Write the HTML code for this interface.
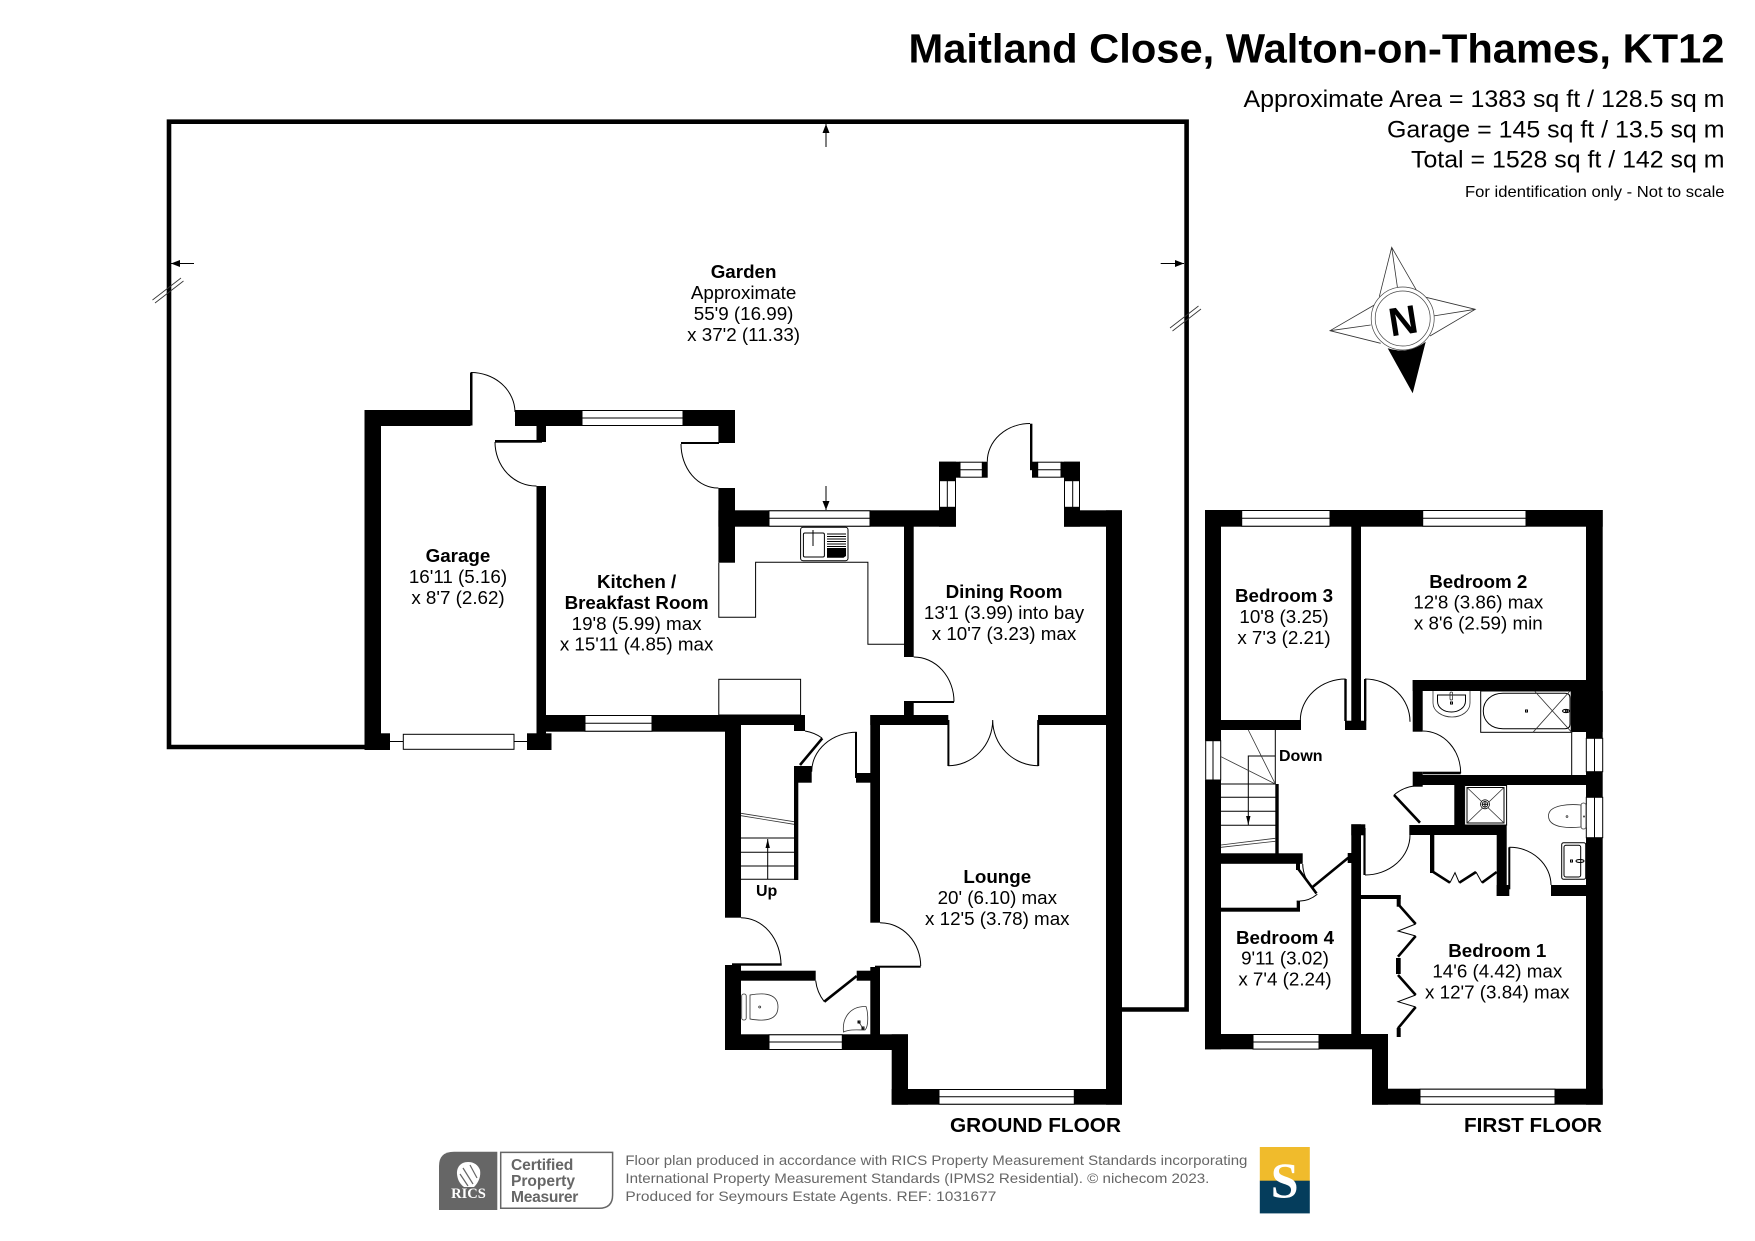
<!DOCTYPE html>
<html><head><meta charset="utf-8"><title>Maitland Close Floor Plan</title>
<style>
html,body{margin:0;padding:0;background:#fff}
svg{display:block}
text{font-family:"Liberation Sans",sans-serif;fill:#000}
.b{font-weight:bold}
.r text,text.r{font-size:18.8px;text-anchor:middle}
.w{fill:#000;stroke:none}
.t{fill:none;stroke:#000;stroke-width:1}
.g{fill:none;stroke:#333;stroke-width:.8}
.l{fill:none;stroke:#000;stroke-width:2.6}
.win{fill:#fff;stroke:#000;stroke-width:1}
</style></head><body>
<svg xmlns="http://www.w3.org/2000/svg" width="1755" height="1241" viewBox="0 0 1755 1241">
<rect width="1755" height="1241" fill="#fff"/>

<!-- header -->
<text class="b" x="908.5" y="62.5" font-size="41" textLength="816" lengthAdjust="spacingAndGlyphs">Maitland Close, Walton-on-Thames, KT12</text>
<text x="1243.5" y="106.8" font-size="24" textLength="481" lengthAdjust="spacingAndGlyphs">Approximate Area = 1383 sq ft / 128.5 sq m</text>
<text x="1387" y="137.6" font-size="24" textLength="337.5" lengthAdjust="spacingAndGlyphs">Garage = 145 sq ft / 13.5 sq m</text>
<text x="1411" y="167.6" font-size="24" textLength="313.5" lengthAdjust="spacingAndGlyphs">Total = 1528 sq ft / 142 sq m</text>
<text x="1465" y="197" font-size="15.6" textLength="259.5" lengthAdjust="spacingAndGlyphs">For identification only - Not to scale</text>

<!-- garden outline -->
<path d="M365 747H169V121.7H1186.6V1009.5H1122" fill="none" stroke="#000" stroke-width="4.6"/>
<!-- garden arrows -->
<path class="t" d="M826 124V147M826 486V510M171 263.5H194M1160.7 263.5H1184"/>
<path d="M826 124l-3.5 9h7zM826 510l-3.5 -9h7zM171 263.5l9 -3.5v7zM1184 263.5l-9 -3.5v7z" fill="#000"/>
<path class="g" d="M152.5 300L181 278M155 303L183.5 281M1170 328L1198.5 306M1172.5 331L1201 309"/>

<!-- compass -->
<g>
<path class="g" d="M1379.3 296.7L1391.7 247.3L1417.3 291.7M1391.7 247.3L1397.7 289.3M1426 297.3L1475.3 309.3L1430 336M1475.3 309.3L1433.3 316M1374.3 305L1330 330.7L1380.7 343.3M1330 330.7L1370.7 325"/>
<path d="M1387.7 348.3Q1408 355 1425.7 341.7L1412.7 393.3Z" fill="#000"/>
<ellipse cx="1402.7" cy="318.5" rx="31.5" ry="31.5" fill="#fff" stroke="#444" stroke-width=".7"/>
<ellipse cx="1402.7" cy="318.5" rx="27.5" ry="27.5" fill="none" stroke="#444" stroke-width=".7"/>
<text class="b" text-anchor="middle" font-size="40" x="1403" y="334.5" transform="rotate(-9 1402.7 320)">N</text>
</g>

<!-- GROUND FLOOR WALLS -->
<g class="w">
<!-- garage -->
<rect x="364.5" y="410" width="106" height="16"/>
<rect x="364.5" y="410" width="16.5" height="340"/>
<rect x="364.5" y="733.3" width="25.5" height="16.7"/>
<rect x="527" y="733.3" width="24.5" height="16.7"/>
<rect x="470" y="372.5" width="2.5" height="53"/>
<!-- kitchen top -->
<rect x="515" y="410" width="220" height="16"/>
<rect x="536.5" y="426" width="9.5" height="16"/>
<rect x="495" y="440" width="47" height="2.7"/>
<rect x="718.4" y="426" width="16.6" height="17"/>
<rect x="681" y="442" width="38" height="2"/>
<rect x="718.4" y="488" width="16.6" height="74.7"/>
<rect x="536.5" y="486" width="9.5" height="248"/>
<rect x="718.4" y="510.3" width="237.6" height="16.4"/>
<rect x="1064" y="510.3" width="58" height="16.4"/>
<!-- kitchen bottom -->
<rect x="536.5" y="715" width="204" height="16.7"/>
<rect x="740" y="715" width="65" height="10"/>
<rect x="794" y="724" width="11" height="7"/>
<!-- hall left -->
<rect x="725" y="725" width="16" height="192.7"/>
<rect x="725" y="965" width="16" height="85"/>
<rect x="732" y="963.3" width="49.7" height="2.4"/>
<!-- stair wall -->
<rect x="794" y="766" width="17.7" height="16.7"/>
<rect x="794" y="780" width="4.3" height="100"/>
<rect x="855" y="732" width="2" height="46"/>
<rect x="856" y="773" width="15" height="9.7"/>
<!-- lounge left -->
<rect x="870.3" y="715" width="9.7" height="207.7"/>
<rect x="870.3" y="967" width="9.7" height="68"/>
<rect x="875" y="965.7" width="45.7" height="2"/>
<rect x="870.3" y="715" width="78" height="10"/>
<rect x="947.4" y="720" width="2" height="46"/>
<rect x="1037.2" y="720" width="2" height="46"/>
<rect x="1038" y="715" width="68" height="10"/>
<!-- dining -->
<rect x="904" y="526" width="9.7" height="131"/>
<rect x="904" y="701.7" width="9.7" height="14"/>
<rect x="904" y="701" width="50" height="2"/>
<rect x="1106" y="510.3" width="16" height="594.4"/>
<!-- bay -->
<rect x="939" y="461.7" width="21" height="16"/>
<rect x="939" y="461.7" width="17" height="19"/>
<rect x="982.3" y="461.7" width="5.4" height="16"/>
<rect x="1030" y="423.7" width="2.4" height="46.5"/>
<rect x="1032" y="461.7" width="5.7" height="16"/>
<rect x="1061" y="461.7" width="19" height="16"/>
<rect x="1064" y="461.7" width="16" height="19"/>
<rect x="939" y="507.3" width="17" height="19.4"/>
<rect x="1064" y="507.3" width="16" height="19.4"/>
<!-- wc -->
<rect x="741" y="970.7" width="74.7" height="10"/>
<rect x="856.7" y="970.7" width="14" height="10"/>
<rect x="725" y="1034.3" width="183" height="15.7"/>
<rect x="891.7" y="1034.3" width="16.3" height="70.4"/>
<rect x="891.7" y="1089" width="230.3" height="15.7"/>
</g>
<!-- thick door leaves ground floor -->
<path class="l" d="M800 765L822.3 738.3M824.3 1001.7L856.7 976"/>

<!-- ground floor windows -->
<g class="win">
<rect x="582" y="410.5" width="101" height="15"/>
<rect x="769" y="510.8" width="101" height="15.4"/>
<rect x="585" y="715.5" width="67" height="15.7"/>
<rect x="769" y="1034.8" width="73.3" height="14.7"/>
<rect x="939" y="1089.5" width="135.3" height="14.7"/>
<rect x="960" y="462.2" width="22.3" height="15"/>
<rect x="1037.7" y="462.2" width="23.3" height="15"/>
<rect x="939.5" y="480.7" width="16" height="26.6"/>
<rect x="1064.5" y="480.7" width="15" height="26.6"/>
<rect x="403.3" y="734.3" width="110.7" height="15"/>
</g>
<path class="t" d="M582 418H683M769 518.3H870M585 723.3H652M769 1042H842.3M939 1096.8H1074.3M960 469.7H982.3M1037.7 469.7H1061M947.3 480.7V507.3M1072.7 480.7V507.3M390 741.5H403.3M514 741.5H527"/>

<!-- ground door arcs -->
<path class="t" d="M471 372.5A44 40 0 0 1 515 412M495 442A41 44 0 0 0 536.5 486M681 444A37 44 0 0 0 718.4 488M913.7 657A40.3 44.7 0 0 1 954 701.7M1030 423.5A43 38 0 0 0 987.3 461.7M805 731A40 40 0 0 1 822 738M856.7 732.3A45 39.4 0 0 0 811.7 771.7M880 922.7A40.7 43.3 0 0 1 920.7 966M948.3 765.7A44.4 45.7 0 0 0 992.7 720M992.7 720A45.6 45.7 0 0 0 1038.3 765.7M741 917.7A40 47.3 0 0 1 781 965M815.7 980.7A41 41 0 0 0 824.3 1001.7"/>

<!-- kitchen units -->
<path class="t" d="M718.8 562.7V617.3H755.6V562.3H867.9V644.3H904"/>
<rect class="t" x="718.8" y="679.3" width="81.8" height="35.7"/>
<rect class="t" x="800.6" y="527.3" width="47.4" height="33.4" rx="2.5"/>
<rect class="t" x="803.4" y="533" width="21" height="24" rx="1.5"/>
<path class="t" stroke-width=".8" d="M813 530V546M827 534H846M827 536.5H846M827 539H846M827 541.5H846M827 544H846M827 546.5H846"/>
<path d="M827 548H846V556L843.5 557.7H827Z" fill="#000"/>

<!-- ground stairs -->
<path class="t" d="M741 838H794M741 852.3H794M741 866H794M741 879.3H794M767.7 839V879.3"/>
<path d="M767.7 839l-2.2 9h4.4z" fill="#000"/>
<path class="g" d="M741 813.3L794 821.7M741 815.7L794 824.3"/>

<!-- WC fixtures -->
<path class="g" d="M750 995V1019M750 995C756 994 778 990 778 1007C778 1024 756 1020 750 1019Z"/>
<rect class="g" x="741.7" y="994" width="4.5" height="26" rx="2"/>
<circle cx="759.7" cy="1007" r="1" class="g"/>
<path class="g" d="M843.5 1032C842 1018 850 1006 866 1006.5C868 1012 869 1026 865 1030C858 1030 850 1029 843.5 1032Z"/>
<path class="g" d="M858.5 1021.5L864 1030"/>
<rect class="t" x="858" y="1021" width="2" height="2"/><rect class="t" x="862" y="1027" width="2" height="2"/>

<!-- FIRST FLOOR WALLS -->
<g class="w">
<rect x="1205" y="510" width="397.7" height="16.7"/>
<rect x="1205" y="510" width="16" height="230.7"/>
<rect x="1205" y="780" width="16" height="269.3"/>
<rect x="1586" y="510" width="16.7" height="594.7"/>
<rect x="1351.3" y="526" width="9.7" height="204"/>
<rect x="1345" y="720.7" width="21.3" height="9.3"/>
<rect x="1344.3" y="679" width="2.4" height="42"/>
<rect x="1364" y="679" width="2.4" height="42"/>
<rect x="1221" y="720" width="80" height="10"/>
<!-- bath -->
<rect x="1412.7" y="680" width="174" height="11"/>
<rect x="1412.7" y="680" width="10" height="51.7"/>
<rect x="1570.7" y="691" width="32" height="41"/>
<rect x="1412.7" y="771.7" width="10" height="15"/>
<rect x="1422.7" y="771.7" width="38" height="2.6"/>
<rect x="1420" y="775" width="170" height="10"/>
<!-- shower/ensuite -->
<rect x="1454.3" y="785" width="10" height="40"/>
<rect x="1409.3" y="825" width="97.4" height="10"/>
<rect x="1496.7" y="835" width="10" height="61"/>
<rect x="1496.7" y="885" width="12.6" height="11"/>
<rect x="1508.3" y="847.3" width="2" height="42"/>
<rect x="1551" y="885" width="36" height="11"/>
<rect x="1430" y="835" width="4.3" height="38"/>
<!-- landing -->
<rect x="1351.3" y="824.3" width="14" height="11"/>
<rect x="1351.3" y="824.3" width="9.7" height="210"/>
<rect x="1363.4" y="828" width="2.2" height="47"/>
<rect x="1361" y="895" width="39.7" height="4"/>
<rect x="1396.7" y="895" width="4" height="11.7"/>
<rect x="1396" y="958" width="4.7" height="16"/>
<rect x="1396.7" y="1028" width="4" height="9"/>
<!-- bedroom 4 closet -->
<rect x="1275.3" y="784" width="3.4" height="72"/>
<rect x="1221" y="853.3" width="81.7" height="10.5"/>
<rect x="1296" y="863" width="4" height="7"/>
<rect x="1347.7" y="853" width="4" height="10"/>
<rect x="1296.7" y="901" width="3.3" height="10"/>
<rect x="1221" y="907.7" width="79" height="4"/>
<!-- bottom -->
<rect x="1205" y="1034" width="183" height="15.3"/>
<rect x="1372" y="1034" width="16" height="70.7"/>
<rect x="1372" y="1088.7" width="230.7" height="16"/>
</g>
<path class="l" d="M1298.3 869L1316.5 893.5M1311.7 887.7L1348.3 857.7M1394 795L1420 822.7"/>
<path class="l" d="M1398 904L1415.7 924M1415.7 936L1398 956.7M1398 975L1415.7 995M1415.7 1007L1398 1028.3M1433.3 872L1450 882.7M1459.3 882.7L1476 872M1482 882.7L1496.7 872"/>
<path class="t" d="M1415.7 924L1398 931L1415.7 936M1415.7 995L1398 1001.7L1415.7 1007M1450 882.7L1455 872.7L1459.3 882.7M1476 872L1482 882.7"/>

<!-- first windows -->
<g class="win">
<rect x="1241.7" y="510.5" width="88.3" height="15.7"/>
<rect x="1422.7" y="510.5" width="103.3" height="15.7"/>
<rect x="1253" y="1034.5" width="66" height="14.6"/>
<rect x="1420" y="1089.2" width="135" height="15"/>
<rect x="1205.7" y="740.7" width="15" height="39.3"/>
<rect x="1586.3" y="738.3" width="16.4" height="33.4"/>
<rect x="1586.3" y="797.3" width="16.4" height="40.4"/>
</g>
<path class="t" d="M1241.7 518.3H1330M1422.7 518.3H1526M1253 1042H1319M1420 1096.7H1555M1213 740.7V780M1594.5 738.3V771.7M1594.5 797.3V837.7M1571.7 732V775"/>

<!-- first door arcs -->
<path class="t" d="M1345.7 679A45.4 41.7 0 0 0 1300.3 720.7M1365 679A45 42.7 0 0 1 1410 721.7M1422.7 731A38 42.3 0 0 1 1460.7 773.3M1394 795A38 38 0 0 1 1414 786M1410 835A45 40 0 0 1 1365 875M1509.3 847.3A41.7 38 0 0 1 1551 885"/>
<path class="t" stroke-width=".8" d="M1302.7 864Q1303 878 1313 888M1296.7 901Q1308 902 1317.3 894.3"/>

<!-- first stairs -->
<path class="t" d="M1221 784H1276M1221 797.3H1276M1221 811.3H1276M1221 825.3H1276M1275.3 730V784M1275.3 756H1248.3V825"/>
<path class="g" d="M1248.3 730L1275.3 784M1221 756.7L1275.3 784M1221 845L1275.3 838.3M1221 847.3L1275.3 841.3"/>
<path d="M1248.3 825l-2.2 -9h4.4z" fill="#000"/>

<!-- bathroom fixtures -->
<path class="g" d="M1433 691V703C1433 711 1442 717 1452 717C1462 717 1470 711 1470 703V691"/>
<path class="t" stroke-width=".8" d="M1437.5 695H1465.5V701C1465.5 708 1458 712 1451.5 712C1444 712 1437.5 708 1437.5 701Z"/>
<rect class="g" x="1450" y="692" width="2.6" height="8" rx="1.3"/>
<rect class="t" x="1450.5" y="702" width="2" height="2"/>
<rect class="t" x="1480.7" y="691" width="91" height="41.3"/>
<path class="t" d="M1503 693.3H1565Q1570 693.3 1570 698V724Q1570 728.7 1565 728.7H1503C1491 728.7 1483.3 721 1483.3 711C1483.3 701 1491 693.3 1503 693.3Z"/>
<path class="g" d="M1534.5 691L1571.7 732.3M1570 691L1533 732.3"/>
<rect class="t" x="1525.5" y="710" width="2" height="2"/>
<ellipse class="t" cx="1566" cy="711" rx="3.5" ry="1.6"/><circle class="t" cx="1566.5" cy="711" r="1"/>
<!-- shower -->
<rect class="t" x="1464.6" y="785.5" width="42" height="39.5"/>
<rect class="t" x="1467" y="787.5" width="37" height="35.5"/>
<path class="g" d="M1467 787.5L1504 823M1504 787.5L1467 823"/>
<circle cx="1485" cy="804.3" r="4.5" fill="#fff" stroke="#000" stroke-width=".8"/>
<circle cx="1485" cy="804.3" r="2.8" fill="none" stroke="#000" stroke-width=".8"/>
<path class="t" stroke-width=".7" d="M1485 801V807.6M1481.8 804.3H1488.2"/>
<!-- ensuite WC / sink -->
<path class="g" d="M1581 805C1572 804 1548 804 1548.5 816.3C1549 829 1572 828 1581 827Z"/>
<rect class="g" x="1581" y="803" width="5" height="26" rx="2.4"/>
<circle class="g" cx="1567" cy="816.5" r=".9"/><circle class="g" cx="1584" cy="816.5" r=".6"/>
<rect class="t" x="1561.7" y="842.7" width="24" height="36.6" rx="2"/>
<rect class="t" x="1564" y="845.3" width="16.7" height="31.7" rx="2"/>
<rect class="t" x="1570.5" y="860" width="2" height="2"/>
<ellipse class="t" cx="1580" cy="861" rx="4" ry="1.5"/>

<!-- room labels -->
<g class="r">
<text class="b" x="743.6" y="278">Garden</text>
<text x="743.6" y="299">Approximate</text>
<text x="743.6" y="320">55'9 (16.99)</text>
<text x="743.6" y="341">x 37'2 (11.33)</text>

<text class="b" x="458" y="562">Garage</text>
<text x="458" y="583">16'11 (5.16)</text>
<text x="458" y="604">x 8'7 (2.62)</text>

<text class="b" x="636.6" y="588">Kitchen /</text>
<text class="b" x="636.6" y="609">Breakfast Room</text>
<text x="636.6" y="630">19'8 (5.99) max</text>
<text x="636.6" y="650.5">x 15'11 (4.85) max</text>

<text class="b" x="1004" y="598">Dining Room</text>
<text x="1004" y="619">13'1 (3.99) into bay</text>
<text x="1004" y="640">x 10'7 (3.23) max</text>

<text class="b" x="997.3" y="883">Lounge</text>
<text x="997.3" y="904">20' (6.10) max</text>
<text x="997.3" y="925">x 12'5 (3.78) max</text>

<text class="b" x="1284" y="602">Bedroom 3</text>
<text x="1284" y="623">10'8 (3.25)</text>
<text x="1284" y="644">x 7'3 (2.21)</text>

<text class="b" x="1478.3" y="588">Bedroom 2</text>
<text x="1478.3" y="608.5">12'8 (3.86) max</text>
<text x="1478.3" y="629.5">x 8'6 (2.59) min</text>

<text class="b" x="1285" y="944">Bedroom 4</text>
<text x="1285" y="964.5">9'11 (3.02)</text>
<text x="1285" y="985.5">x 7'4 (2.24)</text>

<text class="b" x="1497.3" y="957">Bedroom 1</text>
<text x="1497.3" y="977.5">14'6 (4.42) max</text>
<text x="1497.3" y="998.5">x 12'7 (3.84) max</text>
</g>
<text class="b" x="756" y="896" font-size="16" text-anchor="start">Up</text>
<text class="b" x="1279" y="761" font-size="16">Down</text>
<text class="b" x="950" y="1132" font-size="20" textLength="171" lengthAdjust="spacingAndGlyphs">GROUND FLOOR</text>
<text class="b" x="1464" y="1132" font-size="20" textLength="138" lengthAdjust="spacingAndGlyphs">FIRST FLOOR</text>

<!-- footer -->
<path d="M454 1151.7H497.3V1210H439V1166Q439 1151.7 454 1151.7Z" fill="#666"/>
<path d="M468 1162C460 1162 456.5 1168 457 1174C457.5 1180 460 1184 464 1187L474 1187C479 1182 481 1176 480 1170C478 1165 474 1162 468 1162Z" fill="#fff"/>
<path d="M463 1168L473 1184M470 1165L477 1178M460 1174L468 1186" stroke="#666" stroke-width="1.2" fill="none"/>
<text x="468.5" y="1198" font-size="14.5" font-weight="bold" text-anchor="middle" style="font-family:'Liberation Serif',serif;fill:#fff">RICS</text>
<path d="M500.7 1152.4H612.6V1195Q612.6 1208.3 599 1208.3H500.7Z" fill="none" stroke="#666" stroke-width="1.5"/>
<text class="b" x="511" y="1170" font-size="15.6" textLength="62.3" style="fill:#666">Certified</text>
<text class="b" x="511" y="1186" font-size="15.6" textLength="64" style="fill:#666">Property</text>
<text class="b" x="511" y="1202" font-size="15.6" textLength="67.3" style="fill:#666">Measurer</text>
<text x="625.4" y="1165" font-size="14" textLength="622" lengthAdjust="spacingAndGlyphs" style="fill:#666">Floor plan produced in accordance with RICS Property Measurement Standards incorporating</text>
<text x="625.4" y="1183" font-size="14" textLength="584" lengthAdjust="spacingAndGlyphs" style="fill:#666">International Property Measurement Standards (IPMS2 Residential).   © nichecom 2023.</text>
<text x="625.4" y="1201" font-size="14" textLength="371" lengthAdjust="spacingAndGlyphs" style="fill:#666">Produced for Seymours Estate Agents.   REF:  1031677</text>
<rect x="1259.8" y="1147" width="50" height="34" fill="#f0bb2c"/>
<rect x="1259.8" y="1180.7" width="50" height="32.7" fill="#053d5c"/>
<text x="1284.6" y="1197" font-size="50" font-weight="bold" text-anchor="middle" style="font-family:'Liberation Serif',serif;fill:#fff">S</text>
</svg>
</body></html>
